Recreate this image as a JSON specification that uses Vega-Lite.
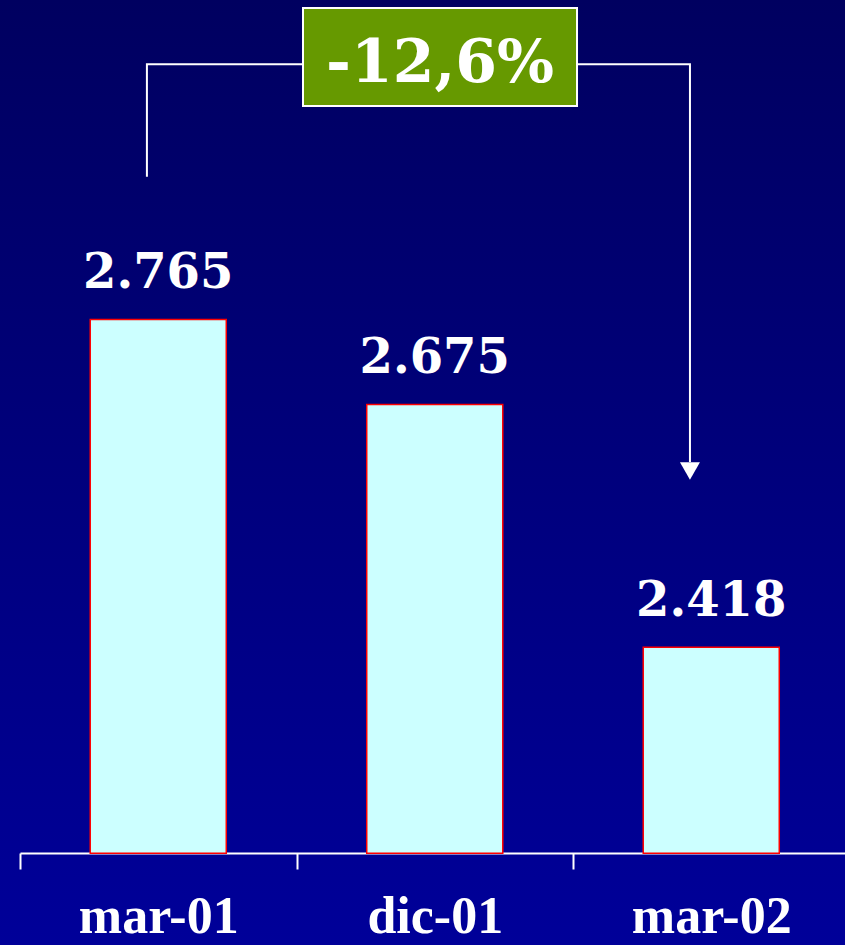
{
  "$schema": "https://vega.github.io/schema/vega-lite/v6.json",
  "width": 845,
  "height": 945,
  "padding": 0,
  "autosize": {"type": "none"},
  "background": "#000080",
  "config": {
    "view": {
      "stroke": null,
      "fill": {"gradient": "linear", "x1": 0, "y1": 0, "x2": 0, "y2": 1, "stops": [{"offset": 0, "color": "#000060"}, {"offset": 1, "color": "#000099"}]}
    }
  },
  "datasets": {
    "bars": [
      {"periodo": "mar-01", "valor": 2765, "etiqueta": "2.765"},
      {"periodo": "dic-01", "valor": 2675, "etiqueta": "2.675"},
      {"periodo": "mar-02", "valor": 2418, "etiqueta": "2.418"}
    ],
    "bracket": [
      {"pos": 0.459, "v": 2916, "orden": 1},
      {"pos": 0.459, "v": 3035, "orden": 2},
      {"pos": 2.423, "v": 3035, "orden": 3},
      {"pos": 2.423, "v": 2614, "orden": 4}
    ],
    "box": [
      {"x1": 1.0235, "x2": 2.0145, "y1": 3094.5, "y2": 2990.8, "xc": 1.519, "yt": 3016, "texto": "-12,6%"}
    ],
    "arrow": [
      {"pos": 2.423, "v": 2604.6}
    ]
  },
  "resolve": {"scale": {"x": "independent"}},
  "layer": [
    {
      "data": {"name": "bars"},
      "layer": [
        {
          "mark": {"type": "bar", "fill": "#CCFFFF", "stroke": "#FF0000", "strokeWidth": 1.5},
          "encoding": {
            "x": {
              "field": "periodo", "type": "nominal", "sort": null,
              "scale": {"range": [20, 849.5], "paddingInner": 0.508, "paddingOuter": 0.254},
              "axis": {
                "title": null, "labelAngle": 0, "offset": -92,
                "domainColor": "#FFFFFF", "domainWidth": 2,
                "tickColor": "#FFFFFF", "tickWidth": 2, "tickSize": 16,
                "tickOffset": -138.25, "labelOffset": 138.25,
                "labelColor": "#FFFFFF", "labelFont": "Liberation Serif", "labelFontWeight": "bold", "labelFontSize": 52,
                "labelBaseline": "alphabetic", "labelPadding": 63
              }
            },
            "y": {"field": "valor", "type": "quantitative", "scale": {"domain": [2103, 3103], "nice": false, "zero": false}, "axis": null},
            "y2": {"datum": 2200}
          }
        },
        {
          "mark": {"type": "text", "font": "DejaVu Serif", "fontWeight": "bold", "fontSize": 48, "color": "#FFFFFF", "baseline": "alphabetic", "dy": -31},
          "encoding": {
            "x": {"field": "periodo", "type": "nominal", "sort": null},
            "y": {"field": "valor", "type": "quantitative"},
            "text": {"field": "etiqueta"}
          }
        }
      ]
    },
    {
      "layer": [
        {
          "data": {"name": "bracket"},
          "mark": {"type": "line", "color": "#FFFFFF", "strokeWidth": 2, "strokeCap": "butt", "strokeJoin": "miter"},
          "encoding": {
            "x": {"field": "pos", "type": "quantitative", "scale": {"domain": [0, 3], "range": [20, 849.5], "nice": false, "zero": false}, "axis": null},
            "y": {"field": "v", "type": "quantitative"},
            "order": {"field": "orden"}
          }
        },
        {
          "data": {"name": "box"},
          "mark": {"type": "rect", "fill": "#669900", "stroke": "#FFFFFF", "strokeWidth": 2},
          "encoding": {
            "x": {"field": "x1", "type": "quantitative"},
            "x2": {"field": "x2"},
            "y": {"field": "y1", "type": "quantitative"},
            "y2": {"field": "y2"}
          }
        },
        {
          "data": {"name": "box"},
          "mark": {"type": "text", "font": "DejaVu Serif", "fontWeight": "bold", "fontSize": 60, "color": "#FFFFFF", "baseline": "alphabetic", "align": "center"},
          "encoding": {
            "x": {"field": "xc", "type": "quantitative"},
            "y": {"field": "yt", "type": "quantitative"},
            "text": {"field": "texto"}
          }
        },
        {
          "data": {"name": "arrow"},
          "mark": {"type": "point", "shape": "triangle-down", "filled": true, "color": "#FFFFFF", "size": 400, "opacity": 1},
          "encoding": {
            "x": {"field": "pos", "type": "quantitative"},
            "y": {"field": "v", "type": "quantitative"}
          }
        }
      ]
    }
  ]
}
